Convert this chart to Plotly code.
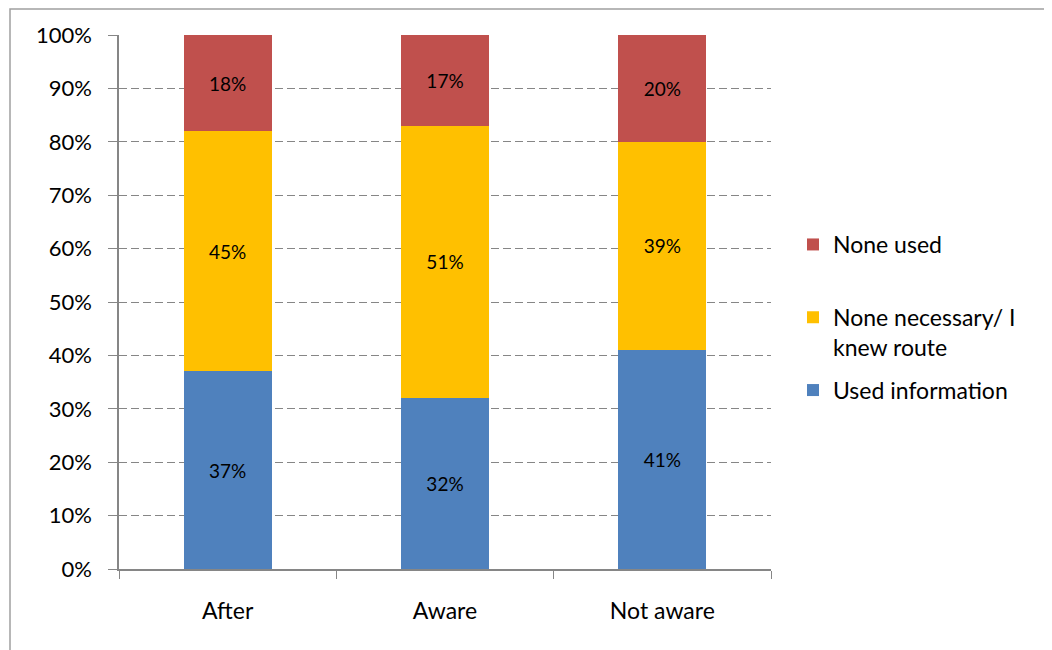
import plotly.graph_objects as go

categories = ["After", "Aware", "Not aware"]
used_information = [37, 32, 41]
none_necessary = [45, 51, 39]
none_used = [18, 17, 20]

series_names = ["Used information", "None necessary/ I<br>knew route", "None used"]
series_colors = ["#4F81BD", "#FFC000", "#C0504D"]
series_values = [used_information, none_necessary, none_used]
y_tickvals = list(range(0, 101, 10))
y_ticktext = [f"{v}%" for v in y_tickvals]

FONT = "Lato, Open Sans, sans-serif"

fig = go.Figure()
for i, (name, vals, col) in enumerate(zip(series_names, series_values, series_colors)):
    legend_name = name if i != 2 else name + "<br> "
    fig.add_trace(go.Bar(
        x=categories, y=vals, name=legend_name, marker_color=col,
        marker_line_width=0,
        text=[f"{v}%" for v in vals], textposition="inside",
        insidetextanchor="middle", textangle=0,
        textfont=dict(family=FONT, size=19, color="black"),
        width=0.405, legendgroup=f"g{i}", legendrank=100 * (3 - i),
    ))

# page (browser) coordinates of the plot area; the page body has an 8px margin
OFF = 8
PX0, PX1, PY0, PY1 = 119, 771, 35, 569
W, H = 1052 - OFF, 650 - OFF
L, R, T, B = PX0 - OFF, W - (PX1 - OFF), PY0 - OFF, H - (PY1 - OFF)
pw, ph = PX1 - PX0, PY1 - PY0


def px(x):
    return (x - PX0) / pw


def py(y):
    return (PY1 - y) / ph


fig.update_layout(
    width=W, height=H, barmode="stack",
    margin=dict(l=L, r=R, t=T, b=B),
    paper_bgcolor="white", plot_bgcolor="white",
    font=dict(family=FONT, size=22, color="black"),
    legend=dict(
        x=px(793), y=py(223),
        xanchor="left", yanchor="top",
        traceorder="grouped", valign="top",
        tracegroupgap=10, itemwidth=30,
        font=dict(family=FONT, size=23, color="black"),
        bgcolor="rgba(0,0,0,0)",
    ),
    xaxis=dict(
        range=[-0.5, 2.5], showline=True, linecolor="#868686", linewidth=1.5,
        ticks="outside", tickson="boundaries", ticklen=8, tickcolor="#868686",
        ticklabelstandoff=21, showgrid=False, zeroline=False,
        tickfont=dict(family=FONT, size=23),
    ),
    yaxis=dict(
        range=[0, 100], tickvals=y_tickvals, ticktext=y_ticktext,
        showline=True, linecolor="#868686", linewidth=1.5,
        ticks="outside", ticklen=9, tickcolor="#868686",
        showgrid=True, gridcolor="#868686", griddash="8px,4px", gridwidth=1,
        zeroline=False, ticklabelstandoff=12,
        tickfont=dict(family=FONT, size=22),
    ),
)

# outer chart border
fig.add_shape(type="rect", xref="paper", yref="paper",
              x0=px(10), x1=px(1070),
              y0=py(670), y1=py(9),
              line=dict(color="#A0A0A0", width=1.5), fillcolor="rgba(0,0,0,0)",
              layer="below")

fig.write_html("out.html")
